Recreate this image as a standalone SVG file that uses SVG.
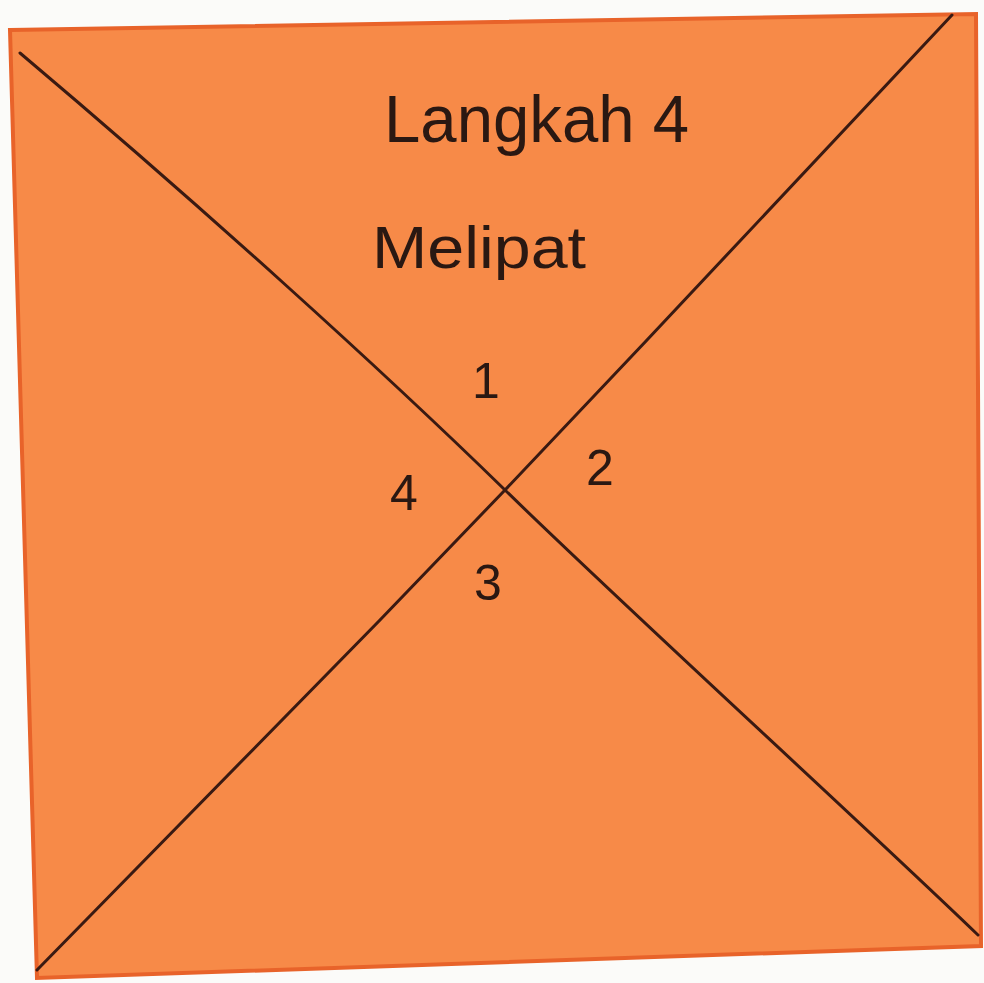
<svg xmlns="http://www.w3.org/2000/svg" width="984" height="983" viewBox="0 0 984 983">
<style>
.t{font-family:"Liberation Sans","DejaVu Sans",sans-serif;fill:#2a1812}
.ln{stroke:#3a1a12;stroke-width:3;fill:none;stroke-linecap:round;stroke-linejoin:round}
</style>
<rect x="0" y="0" width="984" height="983" fill="#fbfbf9"/>
<g id="paper">
<polygon points="10,30 976,14 981,946 37,978" fill="#f78a48" stroke="#e8632a" stroke-width="4"/>
</g>
<g id="connectors">
<path class="ln" d="M20,53 C200,205 380,368 505,490 S850,812 978,935"/>
<polyline class="ln" points="952,15 647,340 505,490 380,620 37,970"/>
</g>
<g id="title">
<text class="t" x="384" y="142" font-size="66" textLength="305" lengthAdjust="spacingAndGlyphs">Langkah 4</text>
<text class="t" x="372" y="268" font-size="60" textLength="214" lengthAdjust="spacingAndGlyphs">Melipat</text>
</g>
<g id="n1"><text class="t" x="486" y="398" font-size="50" text-anchor="middle">1</text></g>
<g id="n2"><text class="t" x="600" y="485" font-size="50" text-anchor="middle">2</text></g>
<g id="n3"><text class="t" x="488" y="600" font-size="50" text-anchor="middle">3</text></g>
<g id="n4"><text class="t" x="404" y="510" font-size="50" text-anchor="middle">4</text></g>
</svg>
